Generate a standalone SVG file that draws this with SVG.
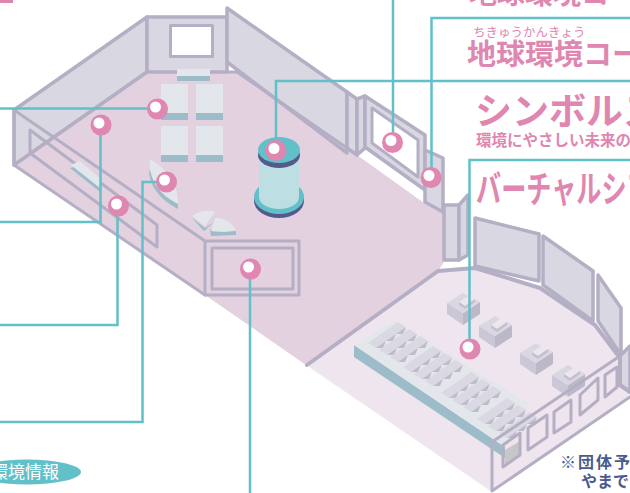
<svg xmlns="http://www.w3.org/2000/svg" width="630" height="493" viewBox="0 0 630 493">
<style>
.wall{fill:#d9d7e1;stroke:#b4afc4;stroke-width:3.5;stroke-linejoin:round;stroke-linecap:round}
.ln{fill:none;stroke:#b4afc4;stroke-width:3;stroke-linejoin:round;stroke-linecap:round}
.win{fill:#fff;stroke:#b4afc4;stroke-width:3;stroke-linejoin:round}
.lead{fill:none;stroke:#62c0c8;stroke-width:2.500}
.pin{fill:#df86b1}.dot{fill:#fff}
.top{fill:#e3e7eb}.side{fill:#9cbcc9}
.cT{fill:#d9d7e1}.cL{fill:#cbc7d6}.cR{fill:#bcb8ca}.cN{fill:#c4c0d0}
.seat{fill:#dad8e2}.seatS{fill:#bfbbcd}
.t{font-family:"Noto Sans CJK JP","Noto Sans",sans-serif;fill:#df86b1}
.b{font-weight:700}
.n{font-family:"Noto Sans CJK JP","Noto Sans",sans-serif;fill:#4a5a8c;font-weight:700;font-size:16px}
</style>
<defs>
<g id="cblock"><path class="cL" d="M0 10L16 20L16 32L0 21Z"/><path class="cR" d="M16 20L33 9L33 21L16 32Z"/><path class="cT" d="M0 10L16 0L21 3L12 9L18 13L28 6L33 9L16 20Z"/><path class="cN" d="M12 9L12 12L18 16L28 9L28 6L18 13Z"/></g>
<g id="seat"><path class="seat" d="M0 0L10 -7L18 -2L8 5Z"/><path class="seatS" d="M8 5L18 -2L15 5Z"/></g>
<g id="block">
<use href="#seat" x="20" y="-14"/><use href="#seat" x="31" y="-7"/><use href="#seat" x="42" y="0"/>
<use href="#seat" x="10" y="-7"/><use href="#seat" x="21" y="0"/><use href="#seat" x="32" y="7"/>
<use href="#seat" x="0" y="0"/><use href="#seat" x="11" y="7"/><use href="#seat" x="22" y="14"/>
</g>
</defs>
<g id="floor">
<path fill="#e3d1e0" d="M147 72L237 72L357 155L424 203L444 214L444 262L438 271L306 365L205 295L14 165Z"/>
<path fill="#efe5ee" d="M306 365L438 271L475 268L540 288L595 325L620 358L630 350L630 397L492 492Z"/>
</g>
<g id="walls">
<path class="wall" d="M14 110L147 17L147 72L14 165Z"/>
<path class="wall" d="M147 17L227 17L227 72L147 72Z"/>
<rect class="win" x="170.500" y="25.500" width="42" height="31"/>
<path class="wall" d="M227 8L347 92L347 153L227 62Z"/>
<path class="wall" d="M347 92L357 99L357 155L347 148Z"/>
<path class="wall" d="M357 99L365 96L365 148L357 155Z"/>
<path class="wall" d="M365 96L425 135L425 190L365 147Z"/>
<path class="win" d="M372 108L418 140L418 177L372 143Z"/>
<path class="wall" d="M425 150L443 158L443 212L425 202Z"/>
<path class="wall" d="M444 205L459 205L459 260L444 260Z"/>
<path class="wall" d="M459 205L468 195L468 255L459 260Z"/>
<path class="wall" d="M475 218L539 234L539 281L475 266Z"/>
<path class="wall" d="M543 236L593 271L593 321L543 285Z"/>
<path class="wall" d="M598 275L621 308L621 355L598 321Z"/>
<path class="ln" d="M14 110L14 165L205 295M14 110L205 241M30 130L30 153L157 247L157 225L30 130"/>
<path class="ln" d="M205 241L299 241L299 295L205 295ZM212 248L293 248L293 289L212 289Z"/>
<path class="ln" d="M147 72L14 165M227 72L237 72L347 148"/>
<path class="ln" style="stroke-width:4" d="M307 365L438 271L475 268L540 288L595 325L620 358"/>
</g>
<g id="furniture">
<path class="top" d="M177 69H210V76H177Z"/><path class="side" d="M177 76H210V81H177Z"/>
<rect class="top" x="161" y="84" width="27" height="29"/><rect class="side" x="161" y="113" width="27" height="7"/>
<rect class="top" x="196" y="84" width="27" height="29"/><rect class="side" x="196" y="113" width="27" height="7"/>
<rect class="top" x="161" y="126" width="27" height="29"/><rect class="side" x="161" y="155" width="27" height="7"/>
<rect class="top" x="196" y="126" width="27" height="29"/><rect class="side" x="196" y="155" width="27" height="7"/>
<path class="side" d="M70 168L100 192L101 188L74 167Z"/>
<path class="top" d="M71 165L80 161L102 180L100 188Z"/>
<path class="side" d="M149 170C149 185 160 200 178 209L178 204Z"/>
<path class="top" d="M150 159C167 170 178 182 178 204C160 195 148 180 150 159Z"/>
<path class="side" d="M191 217L204 231L214 222L205 228Z"/>
<path class="top" d="M192 216C200 210 210 210 215 212L205 226Z"/>
<path class="side" d="M210 229C220 233 228 232 236 231L236 235L211 236Z"/>
<path class="top" d="M215 218C224 217 233 224 236 230C227 232 217 232 211 231Z"/>
<g id="cylinder">
<ellipse cx="279" cy="201" rx="25" ry="17" fill="#545a8b"/>
<ellipse cx="279" cy="197" rx="25" ry="17" fill="#62c0c8"/>
<path fill="#bddfe3" d="M259 158H299V197C299 205 288 209 279 209C270 209 259 205 259 197Z"/>
<ellipse cx="279" cy="155" rx="21" ry="13" fill="#545a8b"/>
<ellipse cx="279" cy="150" rx="21" ry="13" fill="#62c0c8"/>
</g>
<use href="#cblock" x="447" y="293"/>
<use href="#cblock" x="479" y="316"/>
<use href="#cblock" x="520" y="343"/>
<use href="#cblock" x="552" y="365"/>
<g id="seating">
<path class="side" d="M354 345L505 447L505 458L354 357Z"/>
<path class="top" d="M354 345L394 321L530 404L505 447Z"/>
<use href="#block" x="368" y="343"/>
<use href="#block" x="403" y="367"/>
<use href="#block" x="441" y="393"/>
<use href="#block" x="477" y="419"/>
</g>
</g>
<g id="front">
<path class="wall" d="M620 356L630 346L630 392L620 385Z"/>
<path class="ln" d="M492 442L492 491L630 397M492 442L620 356"/>
<path fill="#c8c6c8" d="M505 450L520 441L520 455L505 465Z"/>
<path class="ln" d="M503 445L520 433L520 455L503 467ZM528 428L547 415L547 437L528 450ZM554 412L571 400L571 422L554 433ZM580 395L598 378L598 400L580 415ZM605 375L617 367L617 387L605 397Z"/>
<path class="ln" style="stroke-width:4" d="M620 358L620 385L630 392"/>
</g>
<g id="connectors">
<path class="lead" d="M0 108.500H157"/>
<path class="lead" d="M100.500 125V222H0"/>
<path class="lead" d="M117.500 206V325H0"/>
<path class="lead" d="M166 182H142.500V422H0"/>
<path class="lead" d="M250 269V493"/>
<path class="lead" d="M276 150V81H630"/>
<path class="lead" d="M393 142V0"/>
<path class="lead" d="M431.500 177V18H630"/>
<path class="lead" d="M469.500 349V160H630"/>
</g>
<g id="pins">
<g id="p1"><circle class="pin" cx="157.500" cy="109" r="10.500"/><circle class="dot" cx="155.500" cy="107" r="5.500"/></g>
<g id="p2"><circle class="pin" cx="101" cy="125" r="10.500"/><circle class="dot" cx="99" cy="123" r="5.500"/></g>
<g id="p3"><circle class="pin" cx="118.500" cy="206" r="10.500"/><circle class="dot" cx="116.500" cy="204" r="5.500"/></g>
<g id="p4"><circle class="pin" cx="166.500" cy="182" r="10.500"/><circle class="dot" cx="164.500" cy="180" r="5.500"/></g>
<g id="p5"><circle class="pin" cx="250.500" cy="269" r="10.500"/><circle class="dot" cx="248.500" cy="267" r="5.500"/></g>
<g id="p6"><circle class="pin" cx="276" cy="150.500" r="10.500"/><circle class="dot" cx="274" cy="148.500" r="5.500"/></g>
<g id="p7"><circle class="pin" cx="392.500" cy="142.500" r="10.500"/><circle class="dot" cx="391" cy="140.500" r="5.500"/></g>
<g id="p8"><circle class="pin" cx="431" cy="177.500" r="10.500"/><circle class="dot" cx="429" cy="175.500" r="5.500"/></g>
<g id="p9"><circle class="pin" cx="470" cy="349" r="10.500"/><circle class="dot" cx="468" cy="347" r="5.500"/></g>
</g>
<g id="labels">
<rect x="0" y="0" width="13" height="3" fill="#df86b1"/>
<text class="t b" x="469" y="4" font-size="28">地球環境コ</text>
<text class="t" x="473" y="37" font-size="12.500">ちきゅうかんきょう</text>
<text class="t b" x="467" y="65" font-size="29">地球環境コーナー</text>
<text class="t b" x="475" y="125" font-size="37">シンボルス</text>
<text class="t b" x="476" y="146" font-size="15.500">環境にやさしい未来の</text>
<text class="t b" transform="translate(476 203) scale(.68 1)" font-size="37">バーチャルシア</text>
<ellipse cx="27" cy="472" rx="54" ry="12.500" fill="#62c0c8"/>
<text x="-9" y="478" font-size="17" fill="#fff" font-family="Noto Sans CJK JP,sans-serif">環境情報</text>
<text class="n" x="560" y="468" style="letter-spacing:2px">※団体予</text>
<text class="n" x="581" y="487">やまでお</text>
</g>
</svg>
